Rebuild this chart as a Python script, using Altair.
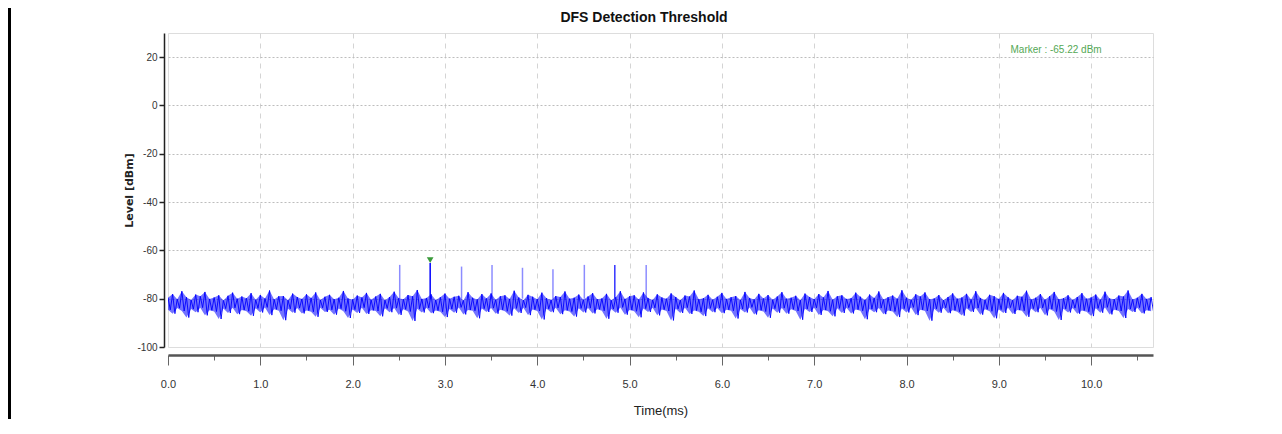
import altair as alt
import pandas as pd

# ---------------- data ----------------
sample_step_ms = 0.05
noise_hi = [
    -79.6,-78.1,-80.2,-76.9,-79.4,-80.5,-78.3,-79.0,-77.2,-80.1,-79.5,-78.6,-80.7,-78.8,-77.5,-80.0,-79.1,-79.8,-77.7,-80.4,
    -78.5,-79.9,-76.6,-80.3,-79.0,-78.9,-80.6,-77.9,-79.3,-80.1,-78.2,-79.7,-77.4,-80.5,-79.2,-78.4,-80.2,-79.6,-76.8,-79.9,
    -80.3,-78.7,-79.5,-77.6,-80.4,-79.1,-78.0,-80.6,-79.3,-77.1,-79.8,-80.2,-78.5,-79.0,-76.4,-80.1,-79.7,-78.2,-80.5,-79.4,
    -77.9,-80.0,-79.2,-78.8,-80.7,-77.3,-79.6,-80.3,-78.1,-79.9,-77.8,-80.4,-79.0,-78.6,-80.1,-76.7,-79.5,-80.6,-78.4,-79.2,
    -80.2,-77.5,-79.8,-80.5,-78.9,-79.3,-77.0,-80.0,-79.6,-78.3,-80.4,-79.1,-77.7,-80.2,-79.9,-78.0,-80.6,-79.4,-76.9,-80.1,
    -79.0,-78.6,-80.3,-77.4,-79.7,-80.5,-78.2,-79.5,-80.0,-77.8,-79.3,-80.6,-78.7,-79.1,-76.6,-80.2,-79.8,-78.4,-80.4,-79.2,
    -77.6,-80.1,-79.4,-78.9,-80.5,-77.2,-79.7,-80.3,-78.0,-79.9,-78.5,-80.4,-79.1,-77.3,-80.0,-79.6,-78.8,-80.6,-77.9,-79.3,
    -80.2,-78.1,-79.5,-76.8,-80.4,-79.0,-78.6,-80.1,-79.8,-77.5,-79.2,-80.5,-78.3,-79.7,-77.0,-80.3,-79.4,-78.7,-80.0,-76.5,
    -79.6,-80.4,-78.2,-79.1,-77.4,-80.2,-79.9,-78.5,-80.6,-79.3,-77.8,-80.0,-79.5,-78.0,-80.3,-76.9,-79.7,-80.5,-78.4,-79.0,
    -80.1,-77.6,-79.4,-80.6,-78.8,-79.2,-76.7,-80.3,-79.6,-78.1,-80.4,-79.0,-77.2,-80.2,-79.8,-78.6,-80.5,-79.3,-77.7,-80.0,
    -79.5,-78.3,-80.4,-77.1,-79.9,-80.2,-78.7,-79.1,-76.6,-80.3,-79.6,-78.0,-80.1,-79.4,
]
noise_lo = [
    -84.6,-86.2,-83.9,-85.1,-87.8,-84.3,-85.6,-83.7,-86.9,-84.8,-85.3,-88.4,-84.1,-85.9,-83.8,-86.4,-84.7,-85.2,-87.1,-84.0,
    -85.7,-83.6,-86.8,-84.4,-85.0,-88.9,-84.2,-85.8,-83.9,-86.1,-84.9,-85.4,-87.5,-83.8,-85.5,-84.6,-86.6,-84.1,-85.2,-88.0,
    -84.5,-85.9,-83.7,-86.3,-84.8,-85.1,-87.3,-84.0,-85.6,-83.9,-86.7,-84.4,-85.3,-89.2,-84.2,-85.7,-83.8,-86.0,-84.9,-85.4,
    -87.6,-84.3,-85.8,-83.6,-86.5,-84.7,-85.0,-88.1,-84.1,-85.5,-83.9,-86.2,-84.6,-85.2,-87.0,-84.0,-85.9,-83.7,-86.8,-84.5,
    -85.1,-88.6,-84.2,-85.6,-83.8,-86.4,-84.8,-85.3,-87.4,-84.0,-85.7,-83.9,-86.1,-84.4,-85.0,-88.3,-84.3,-85.8,-83.6,-86.6,
    -84.7,-85.2,-87.7,-84.1,-85.5,-83.8,-86.9,-84.5,-85.1,-89.0,-84.2,-85.9,-83.7,-86.3,-84.9,-85.4,-87.2,-84.0,-85.6,-83.9,
    -86.0,-84.6,-85.0,-88.2,-84.3,-85.7,-83.6,-86.5,-84.8,-85.3,-87.9,-84.1,-85.8,-83.9,-86.2,-84.4,-85.1,-88.7,-84.2,-85.5,
    -83.8,-86.7,-84.7,-85.2,-87.3,-84.0,-85.9,-83.7,-86.1,-84.5,-85.0,-88.5,-84.3,-85.6,-83.9,-86.4,-84.9,-85.3,-87.6,-84.1,
    -85.7,-83.6,-86.8,-84.6,-85.1,-89.1,-84.2,-85.8,-83.8,-86.0,-84.8,-85.4,-87.0,-84.0,-85.5,-83.9,-86.6,-84.4,-85.2,-88.1,
    -84.5,-85.9,-83.7,-86.3,-84.7,-85.0,-87.5,-84.1,-85.6,-83.8,-86.9,-84.3,-85.3,-88.8,-84.2,-85.7,-83.9,-86.2,-84.9,-85.4,
    -87.2,-84.0,-85.8,-83.6,-86.5,-84.6,-85.1,-88.0,-84.3,-85.5,-83.7,-86.1,-84.8,-85.2,
]
pulse_time_ms = [2.51, 2.84, 3.18, 3.51, 3.84, 4.17, 4.51, 4.84, 5.18]
pulse_peak_dbm = [-66.0, -65.22, -66.7, -66.0, -67.2, -67.8, -66.0, -66.0, -66.0]
pulse_strength = [0.45, 1.0, 0.45, 0.45, 0.45, 0.45, 0.45, 0.8, 0.45]
pulse_base_dbm = -80.0
marker_time_ms = [2.84]
marker_level_dbm = [-65.22]
marker_label = ["Marker : -65.22 dBm"]
marker_label_pos = [(9.62, 23.0)]
chart_title = "DFS Detection Threshold"
x_tick_values = [i * 0.5 for i in range(22)]
y_tick_values = list(range(-100, 31, 10))
x_domain = [0, 10.67]
y_domain = [-100, 30]

# ---------------- tables ----------------
rows = []
for i, (h, l) in enumerate(zip(noise_hi, noise_lo)):
    t = i * sample_step_ms
    rows.append({"t": t, "v": h, "o": 2 * i})
    rows.append({"t": t + sample_step_ms / 2, "v": l, "o": 2 * i + 1})
noise_df = pd.DataFrame(rows)
band_df = pd.DataFrame({"t": [i * sample_step_ms for i in range(len(noise_hi))],
                        "hi": noise_hi, "lo": noise_lo})
pulse_df = pd.DataFrame({"t": pulse_time_ms, "peak": pulse_peak_dbm,
                         "base": [pulse_base_dbm] * len(pulse_time_ms),
                         "s": pulse_strength})
marker_df = pd.DataFrame({"t": marker_time_ms, "v": [v + 1.2 for v in marker_level_dbm]})
label_df = pd.DataFrame({"t": [p[0] for p in marker_label_pos],
                         "v": [p[1] for p in marker_label_pos],
                         "txt": marker_label})

FONT = "Liberation Sans, Arial, sans-serif"

xscale = alt.Scale(domain=x_domain, nice=False, zero=False)
yscale = alt.Scale(domain=y_domain, nice=False, zero=False)

x_axis = alt.Axis(
    values=x_tick_values,
    labelExpr="datum.value % 1 === 0 ? format(datum.value, '.1f') : ''",
    labelFlush=False,
    title="Time(ms)",
    offset=8,
    tickSize={"condition": {"test": "datum.value % 1 === 0", "value": 10}, "value": 5},
    tickColor="#666666",
    tickWidth=1,
    domainColor="#555555",
    domainWidth=2.5,
    labelFont=FONT,
    labelFontSize=11,
    labelColor="#333333",
    labelPadding=13,
    titleFont=FONT,
    titleFontSize=13,
    titleFontWeight="normal",
    titleColor="#222222",
    titlePadding=15,
    grid=True,
    gridDash=[5, 5],
    gridColor="#d4d4d4",
    gridOpacity={"condition": {"test": "datum.value % 1 === 0 && datum.value > 0", "value": 1}, "value": 0},
)
y_axis = alt.Axis(
    values=y_tick_values,
    labelExpr="datum.value % 20 === 0 ? '' + datum.value : ''",
    labelFlush=False,
    title="Level [dBm]",
    offset=4,
    tickSize={"condition": {"test": "datum.value % 20 === 0", "value": 5}, "value": 2},
    tickColor="#222222",
    tickWidth=1.5,
    domainColor="#222222",
    domainWidth=1.5,
    labelFont=FONT,
    labelFontSize=10,
    labelColor="#333333",
    labelPadding=2,
    titleFont="DejaVu Sans",
    titleFontSize=11,
    titleFontWeight="bold",
    titleColor="#222222",
    titlePadding=2,
    grid=True,
    gridDash=[2, 2],
    gridColor="#bdbdbd",
    gridOpacity={"condition": {"test": "datum.value % 20 === 0 && datum.value > -100", "value": 1}, "value": 0},
)

band = alt.Chart(band_df).mark_area(color="#0000ff", opacity=0.55, clip=True).encode(
    x=alt.X("t:Q", scale=xscale, axis=x_axis),
    y=alt.Y("hi:Q", scale=yscale, axis=y_axis),
    y2="lo:Q",
)
noise = alt.Chart(noise_df).mark_line(color="#0000ff", strokeWidth=1, opacity=0.9, clip=True).encode(
    x=alt.X("t:Q", scale=xscale, axis=x_axis),
    y=alt.Y("v:Q", scale=yscale, axis=y_axis),
    order="o:Q",
)
pulses = alt.Chart(pulse_df).mark_rule(color="#0000ff", strokeWidth=1.5).encode(
    x="t:Q", y="base:Q", y2="peak:Q",
    opacity=alt.Opacity("s:Q", scale=None, legend=None),
)
marker = alt.Chart(marker_df).mark_point(shape="triangle-down", filled=True, color="#3a9a3a",
                                         size=45, opacity=1).encode(x="t:Q", y="v:Q")
label = alt.Chart(label_df).mark_text(font=FONT, fontSize=10, color="#55a855", align="center",
                                      baseline="middle").encode(x="t:Q", y="v:Q", text="txt:N")
title_mark = alt.Chart(pd.DataFrame({"txt": [chart_title]})).mark_text(
    font=FONT, fontSize=14, fontWeight="bold", color="#111111", align="center", baseline="middle"
).encode(x=alt.value(476), y=alt.value(-15), text="txt:N")
frame_line = alt.Chart(pd.DataFrame({"a": [0]})).mark_rule(color="#000000", strokeWidth=3).encode(
    x=alt.value(-158.5), y=alt.value(-30), y2=alt.value(420),
)

chart = alt.layer(band, noise, pulses, marker, label, title_mark, frame_line).properties(
    width=985,
    height=314,
    autosize="none",
    padding={"left": 160, "top": 25, "right": 100, "bottom": 72},
).configure_view(stroke="#dcdcdc", strokeWidth=1.5).configure(background="white")

chart.save("out.html", embed_options={"renderer": "svg", "actions": False})
